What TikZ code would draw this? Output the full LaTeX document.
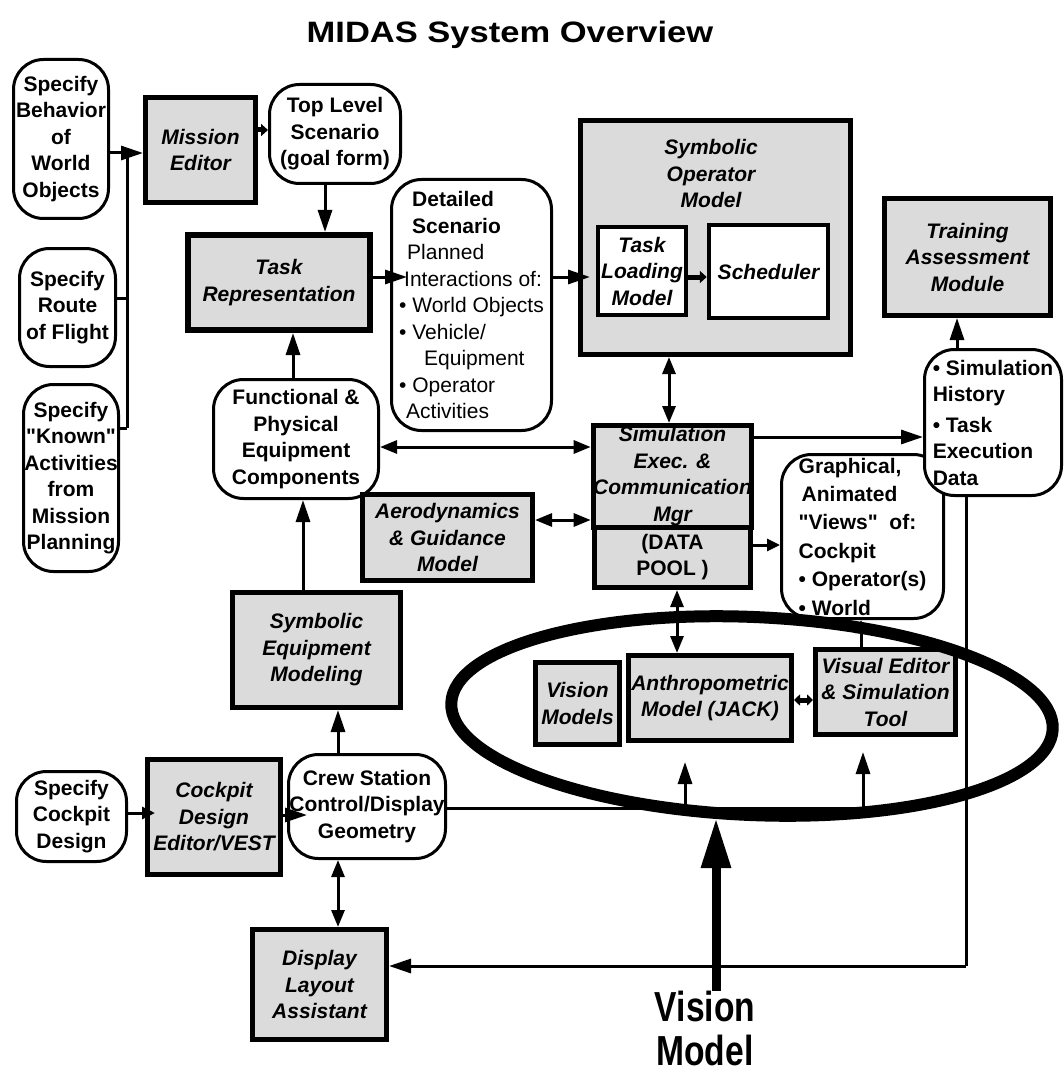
\documentclass[tikz,border=0pt]{standalone}
\usepackage{fontspec}
\setmainfont{Liberation Sans}[Ligatures=TeXOff]
\usetikzlibrary{arrows.meta,shapes.geometric}
\newcommand\myfs{\fontsize{21}{26.5}\selectfont}
\tikzset{
  BigT/.tip={Triangle[length=22pt,width=14pt]},
  MidT/.tip={Triangle[length=17pt,width=13pt]},
  SmT/.tip={Triangle[length=13pt,width=12pt]},
}
\begin{document}
\begin{tikzpicture}[x=1pt,y=-1pt,
  rbox/.style={draw, line width=3pt, rounded corners=30pt, fill=white, font=\myfs\bfseries, align=center, inner sep=0pt},
  sbox/.style={draw, line width=5pt, fill=black!14, font=\myfs\bfseries\itshape, align=center, inner sep=0pt},
  wbox/.style={draw, line width=4.5pt, fill=white, font=\myfs\bfseries\itshape, align=center, inner sep=0pt},
  sz/.style 2 args={minimum width=#1pt, minimum height=#2pt},
  con/.style={line width=3pt},
  arr/.style={line width=3pt, -BigT},
  arrS/.style={line width=3pt, -SmT},
  darr/.style={line width=3pt, MidT-MidT},
  blk/.style={line width=5pt, -{Triangle[length=7pt,width=12pt]}},
  dblk/.style={line width=5pt, {Triangle[length=6pt,width=11pt]}-{Triangle[length=6pt,width=11pt]}},
]
\useasboundingbox (0,0) rectangle (1064,1075);

% title
\node[font=\fontsize{29.5}{34}\selectfont\bfseries, xscale=1.17, anchor=base, inner sep=0pt] (title) at (510,43) {MIDAS System Overview};

% left column
\node[rbox, sz={95}{159}] (behav) at (61,139) {Specify\\Behavior\\of\\World\\Objects};
\node[rbox, sz={96}{118}] (route) at (67.5,307.5) {Specify\\Route\\of Flight};
\node[rbox, sz={95}{187}] (known) at (71,478) {Specify\\"Known"\\Activities\\from\\Mission\\Planning};

% upper row
\node[sbox, sz={110}{105}] (mission) at (200.5,150) {Mission\\Editor};
\node[rbox, sz={131}{99}] (toplevel) at (335,134) {Top Level\\Scenario\\(goal form)};
\node[sbox, line width=6pt, sz={182}{95}] (taskrep) at (279,282.5) {Task\\Representation};
\node[rbox, font=\myfs, align=left, sz={160}{251}] (detailed) at (471.5,305) {\hspace*{13pt}\textbf{Detailed}\\\hspace*{13pt}\textbf{Scenario}\\\hspace*{8pt}Planned\\\hspace*{5pt}Interactions of:\\• World Objects\\• Vehicle/\\\hspace*{25pt}Equipment\\• Operator\\\hspace*{7pt}Activities};

% symbolic operator model
\node[sbox, sz={270}{234}] (symop) at (715.5,237.5) {};
\node[font=\myfs\bfseries\itshape, align=center, inner sep=0pt] (symopT) at (711,174) {Symbolic\\Operator\\Model};
\node[wbox, sz={88}{88}] (tlm) at (642,271) {Task\\Loading\\Model};
\node[wbox, sz={119}{93}] (sched) at (768.5,271.5) {Scheduler};

\node[sbox, sz={166}{117}] (training) at (967.5,257) {Training\\Assessment\\Module};

% middle
\node[rbox, sz={165}{119}] (functional) at (296,439) {Functional \&\\Physical\\Equipment\\Components};
\node[sbox, sz={156}{101.5}] (simexec) at (672.5,476.25) {Simulation\\Exec. \&\\Communication\\Mgr};
\node[sbox, font=\myfs\bfseries, sz={156}{60.5}] (datapool) at (672.5,557.25) {(DATA\\POOL )};
\node[sbox, sz={170}{86}] (aero) at (447.5,537.5) {Aerodynamics\\\& Guidance\\Model};
\node[rbox, align=left, font=\fontsize{21}{28.4}\selectfont\bfseries, sz={162}{164}] (graphical) at (862.5,536.5) {Graphical,\\\hspace*{3pt}Animated\\"Views"\ \ of:\\Cockpit\\• Operator(s)\\• World};
\node[rbox, align=left, sz={137}{146}] (simhist) at (993,422.5) {• Simulation\\History\\[4pt]• Task\\Execution\\Data};

% lower part
\node[sbox, sz={168}{115}] (symeq) at (316.5,650) {Symbolic\\Equipment\\Modeling};
\node[sbox, sz={84}{82}] (vision) at (577.5,703.5) {Vision\\Models};
\node[sbox, sz={163}{85}] (anthro) at (710,698) {Anthropometric\\Model (JACK)};
\node[sbox, sz={140}{85}] (vised) at (885.5,692) {Visual Editor\\\& Simulation\\Tool};
\node[rbox, sz={157}{104}] (crew) at (367,806.5) {Crew Station\\Control/Display\\Geometry};
\node[sbox, sz={133}{115}] (cockpitde) at (214,817) {Cockpit\\Design\\Editor/VEST};
\node[rbox, sz={110}{90}] (specck) at (71.5,816.5) {Specify\\Cockpit\\Design};
\node[sbox, sz={134}{110}] (display) at (319.5,984.5) {Display\\Layout\\Assistant};
\node[font=\fontsize{42}{44}\selectfont\bfseries, xscale=0.8, align=center, inner sep=0pt, anchor=north] (vislbl) at (705,991) {Vision\\Model};

% coordinates
\coordinate (b1) at (127,153);
\coordinate (b2) at (127,298);
\coordinate (b3) at (127,428);
\coordinate (y130) at (0,130);
\coordinate (x325) at (325,0);
\coordinate (t1) at (407,277);
\coordinate (t2) at (590,277);
\coordinate (x293) at (293,0);
\coordinate (x669) at (669,0);
\coordinate (y447) at (0,447);
\coordinate (y520) at (0,520);
\coordinate (y437) at (0,437);
\coordinate (x957) at (957,0);
\coordinate (y545) at (0,545);
\coordinate (x677) at (677,0);
\coordinate (y700) at (0,700);
\coordinate (x861) at (861,0);
\coordinate (c1) at (685,808);
\coordinate (c2) at (863,808);
\coordinate (c1t) at (685,762);
\coordinate (c2t) at (863,752);
\coordinate (r1) at (966,966);
\coordinate (x338) at (338,0);
\coordinate (x303) at (303,0);
\coordinate (s1) at (155,813);
\coordinate (s2) at (307,815);
\coordinate (vt) at (716,818);

% connectors
\draw[con] (b1) -- (b3);
\draw[arr] (behav.east |- b1) -- (mission.west |- b1);
\draw[con] (route.east |- b2) -- (b2);
\draw[con] (known.east |- b3) -- (b3);
\draw[blk] (mission.east |- y130) -- (toplevel.west |- y130);
\draw[arr] (toplevel.south -| x325) -- (taskrep.north -| x325);
\draw[arr] (taskrep.east |- t1) -- (t1);
\draw[arr] (detailed.east |- t2) -- (t2);
\draw[blk] (tlm.east |- t2) -- (sched.west |- t2);
\draw[arr] (functional.north -| x293) -- (taskrep.south -| x293);
\draw[darr] (symop.south -| x669) -- (simexec.north -| x669);
\draw[darr] (functional.east |- y447) -- (simexec.west |- y447);
\draw[darr] (aero.east |- y520) -- (simexec.west |- y520);
\draw[arr] (simexec.east |- y437) -- (simhist.west |- y437);
\draw[arr] (simhist.north -| x957) -- (training.south -| x957);
\draw[arrS] (datapool.east |- y545) -- (graphical.west |- y545);
\draw[darr] (datapool.south -| x677) -- (anthro.north -| x677);
\draw[dblk] (anthro.east |- y700) -- (vised.west |- y700);
\draw[arrS] (vised.north -| x861) -- (graphical.south -| x861);
\draw[con] (crew.east |- c1) -- (c2);
\draw[arr] (c1) -- (c1t);
\draw[arr] (c2) -- (c2t);
\draw[con] (simhist.south -| r1) -- (r1);
\draw[arr] (r1) -- (display.east |- r1);
\draw[darr] (crew.south -| x338) -- (display.north -| x338);
\draw[arr] (crew.north -| x338) -- (symeq.south -| x338);
\draw[arr] (symeq.north -| x303) -- (functional.south -| x303);
\draw[arrS] (specck.east |- s1) -- (s1);
\draw[arr] (cockpitde.east |- s2) -- (s2);

% the ellipse and the vision model arrow
\node[ellipse, draw, line width=12pt, minimum width=602pt, minimum height=198pt, inner sep=0pt, rotate=-2.5] (ell) at (752,716) {};
\draw[line width=9pt, -{Triangle[length=50pt,width=28pt]}] (vislbl.north -| vt) -- (vt);
\end{tikzpicture}
\end{document}
